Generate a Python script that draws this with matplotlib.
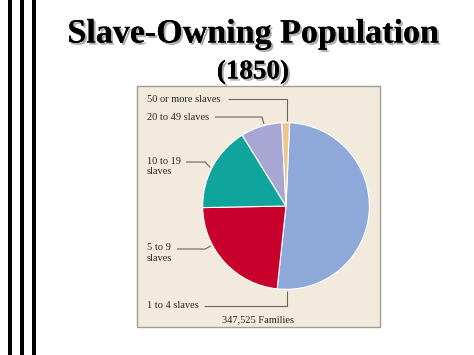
import matplotlib
matplotlib.use("Agg")
import numpy as np
import matplotlib.pyplot as plt
import matplotlib.patheffects as pe
from matplotlib.patches import Rectangle

# ──────────────────────────────────────────────
# Data (share of slave-owning families, 1850)
# ──────────────────────────────────────────────
categories = ["1 to 4 slaves", "5 to 9\nslaves", "10 to 19\nslaves",
              "20 to 49 slaves", "50 or more slaves"]
shares = [51.0, 23.0, 16.5, 8.0, 1.5]
colors = ["#8EA8DA", "#C7002C", "#0FA59C", "#A8A6D2", "#EFC58E"]
total_label = "347,525 Families"
title = "Slave-Owning Population"
subtitle = "(1850)"

# ──────────────────────────────────────────────
# Layout (pixels, origin top-left)
# ──────────────────────────────────────────────
W, H = 474, 355
CX, CY, R = 286, 206, 85
START = 87.5

fig = plt.figure(figsize=(W / 100, H / 100), dpi=100)
fig.patch.set_facecolor("white")

bg = fig.add_axes([0, 0, 1, 1], zorder=0)
bg.set_xlim(0, W)
bg.set_ylim(H, 0)
bg.axis("off")

# left decorative bars
for x0 in (8, 20, 32):
    bg.add_patch(Rectangle((x0, 0), 4, H, color="black", lw=0))

# beige panel
bg.add_patch(Rectangle((137, 86), 243, 241, facecolor="#F2EBDD",
                       edgecolor="#A39C92", lw=1.0))

serif = ["Liberation Serif", "DejaVu Serif"]
shadow = [pe.withSimplePatchShadow(offset=(1.5, -1.5), shadow_rgbFace="#888888",
                                   alpha=0.7), pe.Normal()]
bg.text(253, 34, title, ha="center", va="center", fontsize=24.5,
        fontweight="bold", family=serif, color="black", path_effects=shadow)
bg.text(253, 72, subtitle, ha="center", va="center", fontsize=19.5,
        fontweight="bold", family=serif, color="black", path_effects=shadow)

# pie
pie_ax = fig.add_axes([(CX - R) / W, (H - CY - R) / H, 2 * R / W, 2 * R / H],
                      zorder=2)
pie_ax.pie(shares, colors=colors, startangle=START, counterclock=False,
           radius=1.0, wedgeprops=dict(edgecolor="white", linewidth=0.8))
pie_ax.set_xlim(-1.02, 1.02)
pie_ax.set_ylim(-1.02, 1.02)
pie_ax.set_aspect("equal")
pie_ax.patch.set_alpha(0)


def edge(angle_deg):
    a = np.radians(angle_deg)
    return CX + R * np.cos(a), CY - R * np.sin(a)


# label, text pos (first line), line start x, elbow, anchor angle on pie edge
leaders = [
    (categories[4], (147, 99),  228, (287, 99),  None),
    (categories[3], (147, 117), 215, (262, 117), 105),
    (categories[2], (147, 162), 186, (205, 162), 153),
    (categories[1], (147, 249), 177, (205, 249), 208),
    (categories[0], (147, 306), 204, (287, 306), None),
]
line_c = "#6E6558"
for label, (tx, ty), lx, (ex, ey), ang in leaders:
    if "\n" in label:
        bg.text(tx, ty - 5.5, label, ha="left", va="top", fontsize=7.5,
                family=serif, color="#2B2620", linespacing=1.2)
    else:
        bg.text(tx, ty, label, ha="left", va="center", fontsize=7.5,
                family=serif, color="#2B2620")
    pts_x = [lx, ex]
    pts_y = [ty, ty]
    if ang is None:
        # straight down / up to pie edge
        pts_x.append(ex)
        pts_y.append(CY - R if ty < CY else CY + R)
    else:
        px, py = edge(ang)
        pts_x.append(px)
        pts_y.append(py)
    bg.plot(pts_x, pts_y, color=line_c, lw=0.8, solid_capstyle="butt")

bg.text(258, 320, total_label, ha="center", va="center", fontsize=7.5,
        family=serif, color="#2B2620")

fig.savefig("out.png", dpi=100)
